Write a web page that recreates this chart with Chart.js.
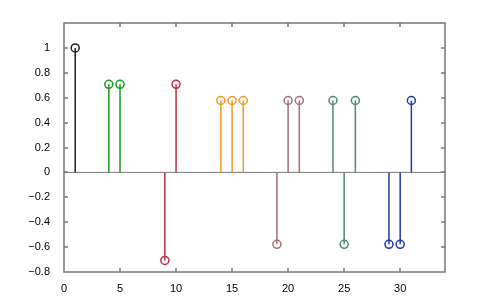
<!DOCTYPE html>
<html>
<head>
<meta charset="utf-8">
<script src="https://cdn.jsdelivr.net/npm/chart.js@4/dist/chart.umd.min.js"></script>
<style>
  html, body { margin: 0; padding: 0; background: #fff; }
  #wrap { width: 491px; height: 307px; }
</style>
</head>
<body>
<div id="wrap"><canvas id="stemChart" width="491" height="307"></canvas></div>
<script>
// stem groups: x positions and values
const stemX = [[1], [4, 5], [9, 10], [14, 15, 16], [19, 20, 21], [24, 25, 26], [29, 30, 31]];
const stemY = [
  [1],
  [0.7071, 0.7071],
  [-0.7071, 0.7071],
  [0.5774, 0.5774, 0.5774],
  [-0.5774, 0.5774, 0.5774],
  [0.5774, -0.5774, 0.5774],
  [-0.5774, -0.5774, 0.5774]
];
const groupColors = ['#222222', '#1c9a1c', '#c22a48', '#f09a22', '#a36e70', '#4e8a6c', '#2238a6'];
const xRange = [0, 34];
const yRange = [-0.8, 1.2];

const datasets = [];
stemX.forEach((xs, g) => {
  xs.forEach((x, i) => {
    datasets.push({
      data: [{ x: x, y: 0 }, { x: x, y: stemY[g][i] }],
      borderColor: groupColors[g],
      borderWidth: 1.5,
      pointBorderColor: groupColors[g],
      pointBackgroundColor: 'rgba(0,0,0,0)',
      pointBorderWidth: 1.5,
      pointRadius: ctx => ctx.dataIndex === 1 ? 4 : 0,
      pointHoverRadius: ctx => ctx.dataIndex === 1 ? 4 : 0
    });
  });
});
// zero baseline
datasets.push({
  data: [{ x: xRange[0], y: 0 }, { x: xRange[1], y: 0 }],
  borderColor: '#777777',
  borderWidth: 1,
  pointRadius: 0
});

const fmt = v => {
  const r = Math.round(v * 10) / 10;
  return r < 0 ? '\u2212' + String(-r) : String(r);
};

// box frame with inward ticks on all sides
const frame = {
  id: 'frame',
  afterDraw(chart) {
    const { ctx, chartArea: a, scales } = chart;
    ctx.save();
    ctx.strokeStyle = '#777';
    ctx.lineWidth = 1.5;
    ctx.strokeRect(Math.round(a.left), Math.round(a.top),
      Math.round(a.right - a.left), Math.round(a.bottom - a.top));
    ctx.beginPath();
    for (let v = 5; v < xRange[1]; v += 5) {
      const px = Math.round(scales.x.getPixelForValue(v));
      ctx.moveTo(px, a.bottom); ctx.lineTo(px, a.bottom - 4);
      ctx.moveTo(px, a.top); ctx.lineTo(px, a.top + 4);
    }
    for (let v = -6; v <= 10; v += 2) {
      const py = Math.round(scales.y.getPixelForValue(v / 10));
      ctx.moveTo(a.left, py); ctx.lineTo(a.left + 4, py);
      ctx.moveTo(a.right, py); ctx.lineTo(a.right - 4, py);
    }
    ctx.stroke();
    ctx.restore();
  }
};

new Chart(document.getElementById('stemChart'), {
  type: 'line',
  data: { datasets: datasets },
  options: {
    responsive: false,
    animation: false,
    layout: { padding: { top: 23, right: 46, left: 0, bottom: 0 } },
    plugins: { legend: { display: false }, tooltip: { enabled: false } },
    scales: {
      x: {
        type: 'linear',
        min: xRange[0], max: xRange[1],
        border: { display: false },
        grid: { display: false },
        afterFit: s => { s.height = 35; },
        ticks: {
          stepSize: 5, autoSkip: false, maxRotation: 0, padding: 2,
          color: '#000', font: { family: 'Liberation Sans, Arial, sans-serif', size: 11 },
          callback: v => (v % 5 === 0 ? fmt(v) : '')
        }
      },
      y: {
        min: yRange[0], max: yRange[1],
        border: { display: false },
        grid: { display: false },
        afterFit: s => { s.width = 64; },
        ticks: {
          stepSize: 0.2, autoSkip: false, padding: 6,
          color: '#000', font: { family: 'Liberation Sans, Arial, sans-serif', size: 11 },
          callback: v => (Math.abs(v - 1.2) < 1e-6 ? '' : fmt(v))
        }
      }
    }
  },
  plugins: [frame]
});
</script>
</body>
</html>
